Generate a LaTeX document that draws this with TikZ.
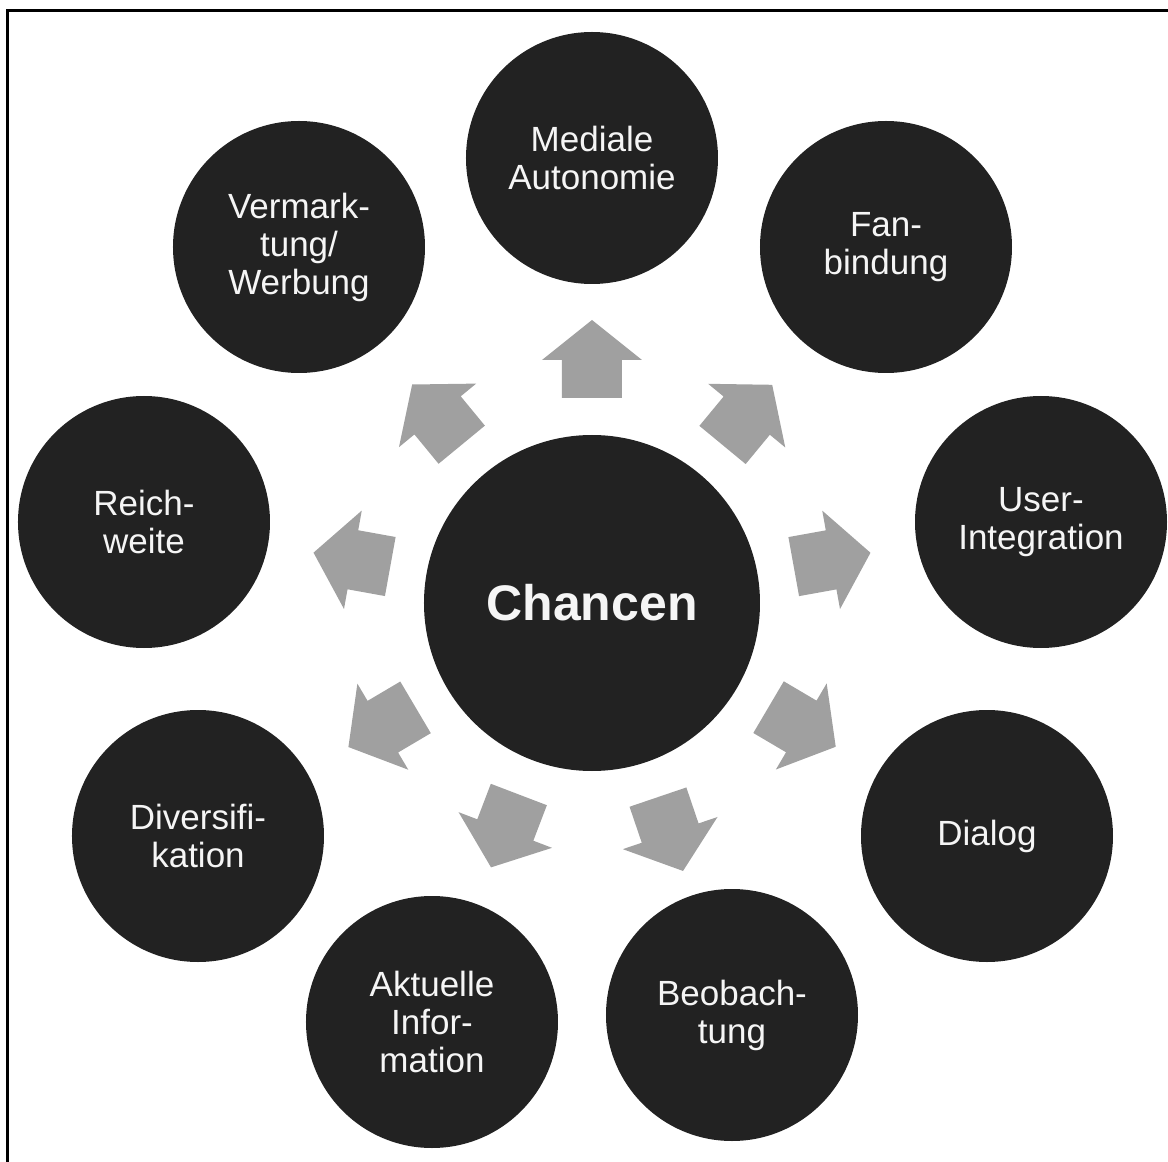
\documentclass[tikz,border=0pt]{standalone}
\usepackage{fontspec}
\setmainfont{Liberation Sans}
\usetikzlibrary{calc}

\definecolor{circlefill}{HTML}{222222}
\definecolor{arrowgray}{HTML}{A0A0A0}

% grey block arrow from the centre towards an outer circle
\newcommand{\chancearrow}[1]{%
    \fill [arrowgray] let \p1 = ($(#1.center)-(chancen.center)$),
        \n1 = {atan2(\y1,\x1)} in [rotate=\n1]
        (205,-30) -- (243,-30) -- (243,-50) -- (283,0) -- (243,50)
        -- (243,30) -- (205,30) -- cycle;%
}

\begin{document}
\begin{tikzpicture}[x=0.5pt, y=0.5pt]

    % Define styles for the nodes
    \tikzstyle{chance} = [
        circle, fill=circlefill, text=white!96!black, inner sep=0pt,
        minimum size=126pt, align=center,
        font=\fontsize{17.5}{19}\selectfont
    ]
    \tikzstyle{hub} = [
        circle, fill=circlefill, text=white!96!black, inner sep=0pt,
        minimum size=168pt, font=\fontsize{25}{28}\selectfont\bfseries
    ]
    \tikzstyle{frame} = [draw=black, line width=1.5pt]

    \useasboundingbox (-592,-559) rectangle (576,603);
    \draw [frame] (-584,-559) |- (576,592);

    % Nodes
    \node (chancen) [hub] at (0,0) {Chancen};
    \node (autonomie) [chance] at (0,445) {Mediale\\Autonomie};
    \node (fanbindung) [chance] at (294,356) {Fan-\\bindung};
    \node (integration) [chance] at (449,81) {User-\\Integration};
    \node (dialog) [chance] at (395,-233) {Dialog};
    \node (beobachtung) [chance] at (140,-412) {Beobach-\\tung};
    \node (information) [chance] at (-160,-419) {Aktuelle\\Infor-\\mation};
    \node (diversifikation) [chance] at (-394,-233) {Diversifi-\\kation};
    \node (reichweite) [chance] at (-448,81) {Reich-\\weite};
    \node (werbung) [chance] at (-293,356) {Vermark-\\tung/\\Werbung};

    % Arrows
    \chancearrow{autonomie}
    \chancearrow{fanbindung}
    \chancearrow{integration}
    \chancearrow{dialog}
    \chancearrow{beobachtung}
    \chancearrow{information}
    \chancearrow{diversifikation}
    \chancearrow{reichweite}
    \chancearrow{werbung}

\end{tikzpicture}
\end{document}
